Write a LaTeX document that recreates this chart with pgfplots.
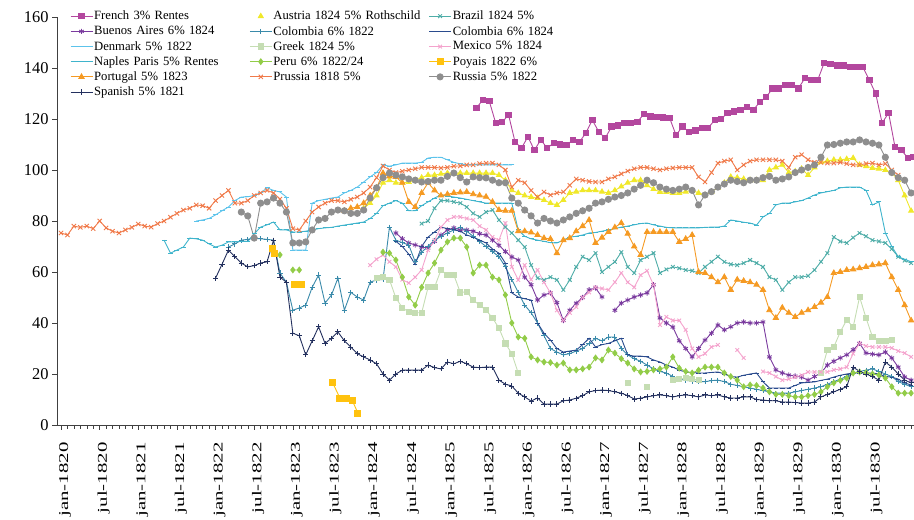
\documentclass[border=0pt]{standalone}
\usepackage{graphicx}
\usepackage{pgfplots}
\pgfplotsset{compat=1.18}
\usepackage{fontspec}
\setmainfont{Liberation Serif}
\definecolor{french}{HTML}{B3479E}
\definecolor{austria}{HTML}{F0E82A}
\definecolor{brazil}{HTML}{4FADA8}
\definecolor{ba}{HTML}{7A3A9E}
\definecolor{colA}{HTML}{3A8AAA}
\definecolor{colB}{HTML}{2A4B8D}
\definecolor{denmark}{HTML}{5CC3EB}
\definecolor{greek}{HTML}{C5DDB3}
\definecolor{mexico}{HTML}{F4A3CD}
\definecolor{naples}{HTML}{3FB4CC}
\definecolor{peru}{HTML}{92CC48}
\definecolor{poyais}{HTML}{FFC20E}
\definecolor{portugal}{HTML}{F59A23}
\definecolor{prussia}{HTML}{F07A4A}
\definecolor{russia}{HTML}{8E8E8E}
\definecolor{spanish}{HTML}{23305E}
\newcommand\xl[1]{\scalebox{1.55}[1]{#1}}
\begin{document}
\begin{tikzpicture}
\begin{axis}[
 at={(57bp,95bp)}, anchor=south west, scale only axis, width=857bp, height=408bp,
 xmin=-0.62, xmax=132.45, ymin=0, ymax=160,
 axis x line*=bottom, axis y line*=left,
 axis line style={draw=black!75, line width=0.6bp},
 xtick={0,6,...,126},
 xticklabels={\xl{jan-1820},\xl{jul-1820},\xl{jan-1821},\xl{jul-1821},\xl{jan-1822},\xl{jul-1822},\xl{jan-1823},\xl{jul-1823},\xl{jan-1824},\xl{jul-1824},\xl{jan-1825},\xl{jul-1825},\xl{jan-1826},\xl{jul-1826},\xl{jan-1827},\xl{jul-1827},\xl{jan-1828},\xl{jul-1828},\xl{jan-1829},\xl{jul-1829},\xl{jan-1830},\xl{jul-1830}},
 minor xtick={0,1,...,132},
 tick align=outside, major tick length=5bp, minor tick length=4bp,
 tick style={draw=black!75, line width=0.5bp},
 ytick={0,20,...,160},
 yticklabel style={font=\fontsize{16.5}{16.5}\selectfont},
 xticklabel style={xshift=4bp, yshift=-9bp, rotate=90, anchor=east, font=\fontsize{13.5}{13.5}\selectfont},
 /pgf/number format/assume math mode=true,
 unbounded coords=jump,
 every axis plot/.append style={line width=0.9bp},
 legend columns=3,
 legend cell align=left,
 legend style={at={(0.015,1.018)}, anchor=north west, draw=none, fill=none,
   font=\fontsize{12.7}{13}\selectfont, row sep=2.5bp, inner sep=0pt,
   nodes={inner sep=1.2bp},
   /tikz/every even column/.append style={text width=154bp}},
 legend image code/.code={\draw[mark repeat=2,mark phase=2] plot coordinates {(0bp,0bp)(11bp,0bp)(22bp,0bp)};},
]
% French
\addplot[french, mark=square*, mark size=2.7bp, mark options={solid}] coordinates {
(64.5,124.3)(65.5,127.5)(66.5,127)(67.5,118.4)(68.5,118.8)(69.5,121.6)(70.5,111)(71.5,108.6)(72.5,113)(73.5,107.8)(74.5,111.8)(75.5,108.6)(76.5,110.6)(77.5,110)(78.5,109.8)(79.5,111.8)(80.5,111)(81.5,114.5)(82.5,119.6)(83.5,115)(84.5,112.5)(85.5,117)(86.5,117.5)(87.5,118.4)(88.5,118.4)(89.5,118.8)(90.5,122)(91.5,121)(92.5,120.8)(93.5,120.6)(94.5,120.4)(95.5,113.7)(96.5,117)(97.5,115)(98.5,115.5)(99.5,116.5)(100.5,116.5)(101.5,119.6)(102.5,120)(103.5,122.4)(104.5,123)(105.5,123.5)(106.5,124.7)(107.5,123.5)(108.5,126.7)(109.5,128.6)(110.5,132)(111.5,132)(112.5,133.3)(113.5,133.3)(114.5,132)(115.5,136)(116.5,135.3)(117.5,135.3)(118.5,142)(119.5,141.5)(120.5,141)(121.5,141)(122.5,140.5)(123.5,140.4)(124.5,140.4)(125.5,135.3)(126.5,130)(127.5,118.4)(128.5,122.4)(129.5,109)(130.5,107.8)(131.5,104.7)(132.3,105)};
\addlegendentry{French 3\% Rentes}
% Austria
\addplot[austria, mark=triangle*, mark size=2.8bp,
  legend image post style={draw opacity=0, mark options={draw opacity=1}}] coordinates {
(47,85)(48,87)(49,90)(50,95)(51,96)(52,95)(53,95)(54,95.3)(55,96)(56,97)(57,98)(58,98)(59,98.5)(60,98.8)(61,98.8)(62,98.8)(63,98.8)(64,98.8)(65,98.8)(66,98.8)(67,98.8)(68,98)(69,96)(70,92)(71,91)(72,90)(73,89.4)(74,89)(75,88.2)(76,87)(77,86.3)(78,88.2)(79,91)(80,91.5)(81,92)(82,92)(83,92)(84,91.5)(85,91)(86,92)(87,93.5)(88,95)(89,96)(90,96)(91,94)(92,92.5)(93,91.4)(94,91.4)(95,91)(96,91)(97,91.5)(98,92)(99,91)(100,90.2)(101,91.5)(102,93)(103,95)(104,97.3)(105,97)(106,96.5)(107,96)(108,96)(109,96)(110,100)(111,101)(112,102)(113,99)(114,99.5)(115,100.5)(116,98)(117,101)(118,103)(119,103.5)(120,104)(121,104)(122,104.3)(123,104.7)(124,102)(125,101.5)(126,100.8)(127,100.5)(128,100)(129,99)(130,96)(131,90)(132,84)};
\addlegendentry{Austria 1824 5\% Rothschild}
% Brazil
\addplot[brazil, mark=x, mark size=2.6bp] coordinates {
(56,79)(57,80)(58,85)(59,88)(60,88)(61,87.5)(62,87)(63,85.5)(64,83)(65,81.6)(66,83.5)(67,84.3)(68,80.4)(69,77.6)(70,75.3)(71,72.5)(72,69.8)(73,62.7)(74,57.6)(75,56.9)(76,58)(77,56.9)(78,53)(79,56.9)(80,62)(81,66)(82,64.7)(83,67.4)(84,60)(85,62)(86,64)(87,67.8)(88,62)(89,59.6)(90,64.7)(91,66)(92,67.4)(93,59.6)(94,61)(95,62)(96,61.5)(97,60.8)(98,60.5)(99,59.6)(100,62)(101,64)(102,66)(103,64)(104,63)(105,62.7)(106,63.5)(107,64.7)(108,63.5)(109,62)(110,58)(111,56.9)(112,53)(113,56)(114,58)(115,58)(116,58.5)(117,60.8)(118,64)(119,67.4)(120,73.7)(121,72)(122,71.4)(123,73.5)(124,75.3)(125,74)(126,72.5)(127,72)(128,71.4)(129,69)(130,66)(131,64.5)(132,63.5)};
\addlegendentry{Brazil 1824 5\%}
% Buenos Aires
\addplot[ba, mark=asterisk, mark size=2.6bp] coordinates {
(52,75.3)(53,73)(54,71.4)(55,70.6)(56,69.8)(57,69.4)(58,72)(59,74.5)(60,76.5)(61,77.3)(62,76.5)(63,76.5)(64,76)(65,75)(66,74.5)(67,72.5)(68,70.5)(69,68)(70,65.9)(71,64.7)(72,58)(73,55)(74,49)(75,51)(76,51.8)(77,48)(78,41)(79,45)(80,47.8)(81,50)(82,53)(83,53.7)(84,50.2)(85,nan)(86,45)(87,47.8)(88,49)(89,50.2)(90,51)(91,51.8)(92,55)(93,42)(94,40)(95,38.4)(96,33)(97,30)(98,26.7)(99,30)(100,33.3)(101,36)(102,39.2)(103,37.3)(104,38.5)(105,40)(106,40.4)(107,40)(108,40)(109,40.4)(110,26.7)(111,21.6)(112,20.4)(113,19.6)(114,19.2)(115,18.8)(116,17.6)(117,19)(118,20.4)(119,23.5)(120,25)(121,26.3)(122,27.5)(123,29.5)(124,32)(125,28.2)(126,27.8)(127,27.5)(128,28.6)(129,26.3)(130,22.7)(131,18.8)(132,17.6)};
\addlegendentry{Buenos Aires 6\% 1824}
% Colombia 1822
\addplot[colA, mark=+, mark size=2.6bp] coordinates {
(26,69.8)(27,71)(28,72.5)(29,72.8)(30,73.3)(31,73)(32,72.8)(33,72.5)(34,59.6)(35,56)(36,45)(37,45.9)(38,47)(39,54)(40,58.8)(41,47.8)(42,51)(43,57.6)(44,45)(45,52)(46,50.2)(47,49)(48,56)(49,56.9)(50,57)(51,77.6)(52,72.5)(53,71.5)(54,70.6)(55,64)(56,67.8)(57,70)(58,72.5)(59,74)(60,75.3)(61,76.5)(62,77.6)(63,76)(64,74)(65,72)(66,70)(67,68)(68,66)(69,62)(70,57)(71,52)(72,47)(73,44)(74,40)(75,35)(76,30)(77,28.6)(78,27.5)(79,28)(80,29)(81,30)(82,32)(83,34)(84,33)(85,34.5)(86,34.5)(87,30)(88,27.5)(89,26)(90,25)(91,23.5)(92,22)(93,21)(94,20.4)(95,19)(96,18)(97,17.5)(98,17.2)(99,17)(100,17)(101,17.4)(102,17.6)(103,17)(104,16)(105,15.5)(106,15)(107,14.5)(108,14)(109,13.5)(110,13)(111,12.5)(112,12.5)(113,12.5)(114,13)(115,13.5)(116,14)(117,14.5)(118,15)(119,16)(120,17)(121,18)(122,19)(123,20.4)(124,21)(125,21.5)(126,22)(127,21)(128,20)(129,19)(130,17)(131,16)(132,15)};
\addlegendentry{Colombia 6\% 1822}
% Colombia 1824
\addplot[colB, mark=-, mark size=2.2bp] coordinates {
(52,72)(53,70)(54,67)(55,63)(56,70)(57,73.7)(58,75.7)(59,77.6)(60,77)(61,76.5)(62,76)(63,74.5)(64,73.7)(65,72.5)(66,71.4)(67,69)(68,67.4)(69,63.5)(70,51.8)(71,50.2)(72,49.5)(73,49)(74,40)(75,36)(76,33.3)(77,30)(78,28.6)(79,29)(80,29.4)(81,31.5)(82,34)(83,30.6)(84,31.5)(85,32)(86,33)(87,34)(88,27.5)(89,27)(90,27)(91,26.7)(92,25.5)(93,24.7)(94,23.5)(95,22.7)(96,21.5)(97,20.8)(98,20.6)(99,20.4)(100,20.4)(101,20.6)(102,20.8)(103,20)(104,19)(105,18.8)(106,19.5)(107,20)(108,20.4)(109,17)(110,14.5)(111,14.5)(112,14.5)(113,14.5)(114,15.5)(115,16.5)(116,16.7)(117,16.9)(118,17.5)(119,18)(120,18.8)(121,19.5)(122,20)(123,20.4)(124,20.4)(125,20.4)(126,20.4)(127,20)(128,19)(129,18.8)(130,18)(131,16.5)(132,15.7)};
\addlegendentry{Colombia 6\% 1824}
% Denmark
\addplot[denmark, mark=-, mark size=2.5bp] coordinates {
(21,80)(22,80.4)(23,81)(24,82.4)(25,84)(26,85.5)(27,88)(28,89.4)(29,89.5)(30,90)(31,91)(32,93)(33,92)(34,91.4)(35,89.4)(36,68.6)(37,68.6)(38,68.6)(39,87)(40,88)(41,88.5)(42,89)(43,89.4)(44,91)(45,92)(46,93.3)(47,95.3)(48,97.3)(49,99)(50,102)(51,101.5)(52,102)(53,102.7)(54,102.7)(55,102.7)(56,103)(57,104.7)(58,105)(59,105)(60,104)(61,103)(62,102.4)(63,102)(64,102)(65,102)(66,102)(67,102)(68,102)(69,102)(70,102)};
\addlegendentry{Denmark 5\% 1822}
% Greek
\addplot[greek, mark=square*, mark size=2.6bp] coordinates {
(49,57.6)(50,58)(51,57)(52,49.8)(53,46)(54,44.3)(55,44)(56,44)(57,54)(58,54)(59,60.8)(60,58.8)(61,58.8)(62,52)(63,52.2)(64,49)(65,47)(66,45)(67,42)(68,38)(69,32)(70,28)(71,20.4)(72,nan)(88,16.5)(89,nan)(91,15)(92,nan)(95,17.6)(96,18)(97,18.4)(98,18)(99,17.6)(100,nan)(118,20.4)(119,29.4)(120,30.6)(121,36.5)(122,41.2)(123,38.4)(124,50.2)(125,42)(126,34.5)(127,33)(128,33)(129,33.3)};
\addlegendentry{Greek 1824 5\%}
% Mexico
\addplot[mexico, mark=x, mark size=2.6bp] coordinates {
(48,62.7)(49,65)(50,66.7)(51,64)(52,62)(53,57)(54,55.7)(55,58)(56,60.8)(57,68.6)(58,72.5)(59,77.6)(60,80.4)(61,81.6)(62,81.6)(63,81)(64,80.4)(65,78)(66,76.5)(67,73.7)(68,72.5)(69,79.2)(70,62)(71,56.9)(72,62.7)(73,57)(74,60.8)(75,56)(76,51.8)(77,45)(78,41)(79,44)(80,46.3)(81,50)(82,52)(83,54)(84,53.5)(85,53)(86,56)(87,59.6)(88,56)(89,54)(90,58.8)(91,60.5)(92,55)(93,39.2)(94,42.4)(95,41)(96,41)(97,37.3)(98,30)(99,26.7)(100,28)(101,30.6)(102,31.4)(103,nan)(105,29.4)(106,26.3)(107,nan)(109,21)(110,20.4)(111,19)(112,17.6)(113,18)(114,18.8)(115,19.5)(116,20.8)(117,20.8)(118,20.8)(119,20.8)(120,21.6)(121,22)(122,22.7)(123,28)(124,32)(125,31)(126,30.6)(127,30.6)(128,30.6)(129,30.2)(130,29)(131,28.2)(132,26.7)};
\addlegendentry{Mexico 5\% 1824}
% Naples
\addplot[naples, mark=-, mark size=2.5bp] coordinates {
(16,72.5)(17,67.4)(18,68.6)(19,69.8)(20,73.3)(21,73)(22,72.5)(23,71)(24,69.8)(25,70.5)(26,71.8)(27,71.8)(28,72)(29,72)(30,75)(31,77.6)(32,78.5)(33,79.6)(34,76.5)(35,76.5)(36,75.7)(37,75.7)(38,76)(39,76.5)(40,77)(41,77.3)(42,77.5)(43,78)(44,78.4)(45,78.8)(46,79.2)(47,79.6)(48,81)(49,83)(50,86)(51,87)(52,88)(53,87)(54,84)(55,84)(56,86)(57,87.5)(58,89)(59,90.2)(60,89.8)(61,89.4)(62,89)(63,88.5)(64,88)(65,87.5)(66,87)(67,87)(68,87)(69,87)(70,87)(71,76.5)(72,74)(73,73)(74,72.5)(75,72)(76,71.5)(77,71.4)(78,72.5)(79,73.7)(80,74)(81,74.5)(82,75.3)(83,75.5)(84,76)(85,76.5)(86,77)(87,77.6)(88,78)(89,78.5)(90,79)(91,79.2)(92,78.5)(93,78)(94,77.5)(95,77.3)(96,77.3)(97,77.3)(98,77.3)(99,77.3)(100,77.5)(101,77.6)(102,77.6)(103,78)(104,80.4)(105,80)(106,79.5)(107,79.2)(108,78.4)(109,81.6)(110,83)(111,86.3)(112,87)(113,87)(114,87.5)(115,88)(116,89)(117,90.2)(118,91)(119,91.5)(120,92)(121,93)(122,93.3)(123,93.3)(124,93.3)(125,92)(126,86.3)(127,87.5)(128,75.3)(129,70)(130,66)(131,65)(132,64)};
\addlegendentry{Naples Paris 5\% Rentes}
% Peru
\addplot[peru, mark=diamond*, mark size=2.8bp] coordinates {
(34,66.7)(35,nan)(36,60.8)(37,60.8)(38,nan)(50,67.8)(51,67.4)(52,64.7)(53,58)(54,50.2)(55,47)(56,54)(57,59.6)(58,63.5)(59,68.6)(60,71.8)(61,73.3)(62,73.3)(63,69.8)(64,59.6)(65,62.7)(66,62.7)(67,58)(68,56.9)(69,51)(70,40)(71,34.5)(72,34)(73,26.7)(74,25.5)(75,24.7)(76,24.5)(77,23.5)(78,24.3)(79,21.6)(80,21.6)(81,22)(82,22.7)(83,26.3)(84,25.5)(85,29.4)(86,28.2)(87,26)(88,24.3)(89,22)(90,20.8)(91,21)(92,21.6)(93,22)(94,22.7)(95,26.7)(96,22.3)(97,21)(98,20.4)(99,21.5)(100,22.7)(101,22.7)(102,22.7)(103,20.4)(104,19)(105,17.6)(106,15)(107,15.7)(108,15.5)(109,14.5)(110,13)(111,12)(112,12)(113,11.5)(114,11)(115,11)(116,11.5)(117,12)(118,13)(119,15)(120,16.5)(121,17.5)(122,18.4)(123,20.4)(124,20.8)(125,20.5)(126,20)(127,19.6)(128,18.4)(129,15)(130,12.5)(131,12.5)(132,12.5)};
\addlegendentry{Peru 6\% 1822/24}
% Poyais
\addplot[poyais, mark=square*, mark size=3bp] coordinates {
(32.8,69.4)(33.2,67.4)(34,nan)(36.3,55)(37.4,55)(38,nan)(42.2,16.5)(43.3,10.6)(44.4,10.6)(45.2,9.8)(46.1,4.7)};
\addlegendentry{Poyais 1822 6\%}
% Portugal
\addplot[portugal, mark=triangle*, mark size=3bp] coordinates {
(44,84)(45,85)(46,85.5)(47,87)(48,90)(49,93)(50,98.8)(51,97.5)(52,97.3)(53,95)(54,87.5)(55,85.5)(56,91)(57,95)(58,92)(59,90)(60,90.5)(61,91)(62,91.2)(63,91.4)(64,90.5)(65,90)(66,89.5)(67,87.5)(68,84.3)(69,84)(70,84)(71,76)(72,76)(73,75.5)(74,74.5)(75,73.3)(76,73)(77,67.4)(78,72.5)(79,73.3)(80,76)(81,78)(82,80.4)(83,71.4)(84,73.5)(85,75.7)(86,77.5)(87,79.2)(88,75)(89,70)(90,66.7)(91,75.7)(92,75.7)(93,75.7)(94,75.7)(95,75.7)(96,71.8)(97,73)(98,74.5)(99,60)(100,59.6)(101,58)(102,56)(103,58)(104,53)(105,57)(106,56.5)(107,56)(108,55)(109,53)(110,45)(111,42)(112,46)(113,44)(114,42.4)(115,44)(116,45)(117,46.3)(118,48)(119,50.2)(120,59.6)(121,60)(122,60.8)(123,61)(124,61.5)(125,62)(126,62.7)(127,63)(128,63.5)(129,58)(130,53)(131,47)(132,41)};
\addlegendentry{Portugal 5\% 1823}
% Prussia
\addplot[prussia, mark=x, mark size=3bp] coordinates {
(0,75.3)(1,74.5)(2,78)(3,77.5)(4,78)(5,77)(6,80)(7,77.3)(8,76)(9,75.3)(10,76.5)(11,77.5)(12,78.8)(13,78)(14,77.6)(15,79)(16,80)(17,81.5)(18,83)(19,84.3)(20,85)(21,86.3)(22,86)(23,85)(24,88)(25,90)(26,92)(27,87)(28,87)(29,88)(30,90)(31,91)(32,92)(33,91)(34,88.6)(35,85)(36,77)(37,76.5)(38,80)(39,83.5)(40,85.5)(41,87)(42,88)(43,88)(44,87.5)(45,88.5)(46,89.4)(47,91)(48,93.3)(49,97)(50,101.6)(51,100)(52,99)(53,99.5)(54,100)(55,100.5)(56,101)(57,101)(58,101)(59,100.8)(60,101)(61,101.5)(62,101.6)(63,102)(64,102)(65,102.5)(66,102.7)(67,102.7)(68,102)(69,100)(70,93.3)(71,96)(72,95)(73,92)(74,89.4)(75,91.4)(76,90.2)(77,91)(78,91.4)(79,94)(80,96.5)(81,96)(82,95.5)(83,95.3)(84,95.3)(85,96.5)(86,97.3)(87,98.5)(88,99.6)(89,100.5)(90,101)(91,101)(92,100.5)(93,100)(94,100.5)(95,100.8)(96,101)(97,101)(98,101)(99,97.3)(100,95.3)(101,99)(102,102.7)(103,103.5)(104,104)(105,100)(106,102)(107,103.5)(108,104)(109,104)(110,104)(111,104)(112,103.5)(113,101)(114,105)(115,106)(116,104)(117,103)(118,103)(119,102.7)(120,102.7)(121,103)(122,102.5)(123,102)(124,102)(125,102.5)(126,102.7)(127,102)(128,102.5)(129,100)(130,98)};
\addlegendentry{Prussia 1818 5\%}
% Russia
\addplot[russia, mark=*, mark size=3.1bp] coordinates {
(28,83.5)(29,82)(30,73.3)(31,87)(32,87.5)(33,89)(34,87)(35,83.5)(36,71.4)(37,71.4)(38,71.8)(39,76.5)(40,80.4)(41,81)(42,83.5)(43,84.3)(44,84)(45,83)(46,83)(47,84.3)(48,89)(49,93)(50,97)(51,98.8)(52,98)(53,97.3)(54,96.5)(55,96)(56,95.3)(57,95.5)(58,96)(59,96)(60,97.5)(61,98.8)(62,97)(63,95.3)(64,97.3)(65,97)(66,96.9)(67,96)(68,95)(69,95)(70,89)(71,87)(72,84.3)(73,82)(74,79.2)(75,81)(76,80)(77,79.2)(78,80.4)(79,81.6)(80,83)(81,84)(82,85)(83,87)(84,87.5)(85,88.5)(86,89.4)(87,90)(88,91)(89,92.5)(90,94)(91,96)(92,95)(93,93.3)(94,92.5)(95,92)(96,92.5)(97,93.3)(98,92)(99,86.3)(100,90.2)(101,91.5)(102,93.3)(103,94.5)(104,96)(105,95.5)(106,95)(107,96)(108,96)(109,97)(110,97.5)(111,96)(112,96.5)(113,97.3)(114,99)(115,100)(116,101)(117,102)(118,105)(119,109.8)(120,110)(121,110.5)(122,111)(123,111)(124,111.8)(125,111)(126,110.5)(127,109.8)(128,105)(129,99)(130,97)(131,96)(132,91)};
\addlegendentry{Russia 5\% 1822}
% Spanish
\addplot[spanish, mark=+, mark size=2.6bp] coordinates {
(24,57.6)(25,63)(26,68.6)(27,66)(28,63.5)(29,62)(30,62.5)(31,63.5)(32,64)(33,72.5)(34,58)(35,56)(36,36)(37,35)(38,27.5)(39,33)(40,38.5)(41,32)(42,34)(43,36.5)(44,33)(45,30.6)(46,28)(47,26.7)(48,25.5)(49,24)(50,20)(51,17.6)(52,20)(53,21.5)(54,21.5)(55,21.5)(56,21.5)(57,23.5)(58,22.5)(59,22)(60,24.7)(61,24)(62,25)(63,24)(64,22.7)(65,22.5)(66,22.7)(67,22.7)(68,17.6)(69,16)(70,15.3)(71,12.5)(72,11)(73,9.4)(74,10.6)(75,8.2)(76,8.2)(77,8.2)(78,9.5)(79,9.8)(80,10.5)(81,11.5)(82,13)(83,13.5)(84,13.7)(85,13.5)(86,13)(87,12.5)(88,11.5)(89,10.2)(90,10.5)(91,11)(92,11.5)(93,11.8)(94,11.5)(95,11)(96,11.5)(97,11.8)(98,11.5)(99,11)(100,11.8)(101,11.5)(102,11.8)(103,11)(104,10.6)(105,10.6)(106,11)(107,11)(108,10)(109,9.8)(110,9.5)(111,9.5)(112,9)(113,9)(114,8.8)(115,8.6)(116,8.6)(117,9)(118,11)(119,12)(120,13)(121,14)(122,15)(123,22.7)(124,21)(125,20)(126,19)(127,17.6)(128,24.7)(129,22.7)(130,20)(131,17.6)(132,16.5)};
\addlegendentry{Spanish 5\% 1821}
\end{axis}
\pgfresetboundingbox
\path (0,0) rectangle (914bp,520bp);
\end{tikzpicture}
\end{document}
